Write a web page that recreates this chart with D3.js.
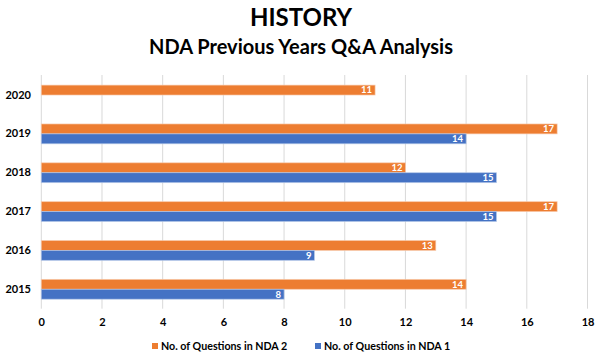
<!DOCTYPE html>
<html><head><meta charset="utf-8">
<script src="https://cdn.jsdelivr.net/npm/d3@7"></script>
<style>body{margin:0;background:#fff}svg{display:block}text{font-family:Lato,"Open Sans",sans-serif}</style>
</head><body><svg id="c" width="602" height="360"></svg>
<script>
const years = ["2020","2019","2018","2017","2016","2015"];
const nda2 = [11,17,12,17,13,14];
const nda1 = [null,14,15,15,9,8];
const xTicks = [0,2,4,6,8,10,12,14,16,18];
const seriesNames = ["No. of Questions in NDA 2","No. of Questions in NDA 1"];
const colors = ["#ED7D31","#4472C4"];

const svg = d3.select("#c");
const x = d3.scaleLinear().domain([0,18]).range([41.3,587.5]);
const y = d3.scaleBand().domain(years).range([75.6,308.7]).paddingInner(0.49).paddingOuter(0.245);
const sub = d3.scaleBand().domain([0,1]).range([0,y.bandwidth()]);

svg.append("text").attr("x",301).attr("y",25.5).attr("text-anchor","middle")
  .attr("font-size",24).attr("font-weight",700).text("HISTORY");
svg.append("text").attr("x",301).attr("y",54).attr("text-anchor","middle")
  .attr("font-size",20).attr("font-weight",700).text("NDA Previous Years Q&A Analysis");

// grid
svg.append("g").selectAll("line").data(xTicks).join("line")
  .attr("x1",d=>x(d)).attr("x2",d=>x(d)).attr("y1",75).attr("y2",308.7)
  .attr("stroke","#d9d9d9").attr("stroke-width",1);

const xAxis = svg.append("g").attr("transform","translate(0,309)")
  .call(d3.axisBottom(x).tickValues(xTicks).tickSize(0).tickPadding(9));
xAxis.select(".domain").remove();
xAxis.selectAll("text").attr("font-size",11).attr("font-weight",700).attr("fill","#000").attr("font-family","Lato,sans-serif");

const yAxis = svg.append("g").attr("transform","translate(31,0)")
  .call(d3.axisLeft(y).tickSize(0).tickPadding(0));
yAxis.select(".domain").remove();
yAxis.selectAll("text").attr("font-size",11).attr("font-weight",700).attr("fill","#000").attr("font-family","Lato,sans-serif");

const series = [nda2, nda1];
const strokes = ["#f8cbad","#b4c7e7"];
series.forEach((vals,si)=>{
  const data = years.map((yr,i)=>({yr,v:vals[i]})).filter(d=>d.v!=null);
  const g = svg.append("g");
  g.selectAll("rect").data(data).join("rect")
    .attr("x",x(0)).attr("y",d=>y(d.yr)+sub(si))
    .attr("width",d=>x(d.v)-x(0)).attr("height",sub.bandwidth())
    .attr("fill",colors[si]).attr("stroke",strokes[si]).attr("stroke-opacity",0.8)
    .attr("stroke-width",0.8);
  g.selectAll("text").data(data).join("text")
    .attr("x",d=>x(d.v)-3).attr("y",d=>y(d.yr)+sub(si)+sub.bandwidth()/2)
    .attr("dy","0.35em").attr("text-anchor","end")
    .attr("font-size",9.5).attr("font-weight",700).attr("fill","#fff").text(d=>d.v);
});

// legend
const leg = [{x:152,i:0},{x:315,i:1}];
leg.forEach(l=>{
  svg.append("rect").attr("x",l.x).attr("y",343).attr("width",6).attr("height",6).attr("fill",colors[l.i]);
  svg.append("text").attr("x",l.x+9).attr("y",346.5).attr("dy","0.35em")
    .attr("font-size",10.7).attr("font-weight",700).attr("fill","#000").text(seriesNames[l.i]);
});
</script></body></html>
